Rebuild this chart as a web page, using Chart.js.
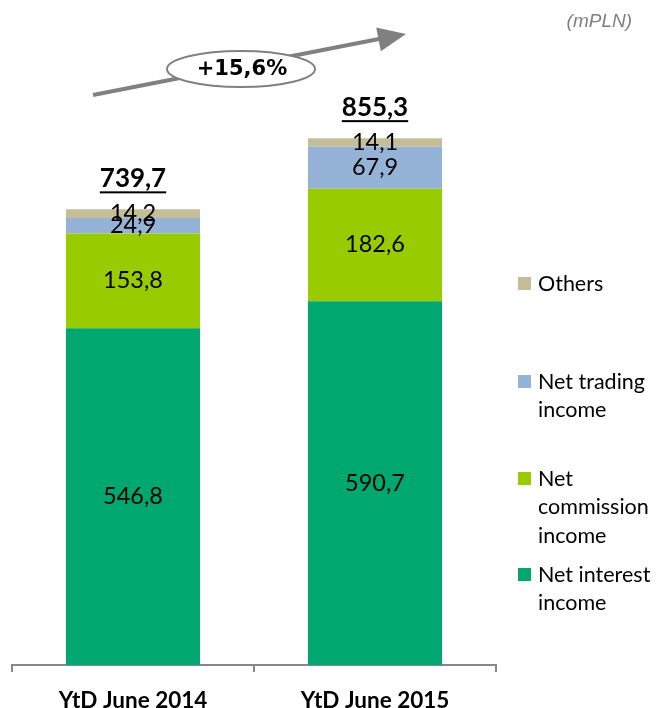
<!DOCTYPE html>
<html>
<head>
<meta charset="utf-8">
<script src="https://cdn.jsdelivr.net/npm/chart.js@4/dist/chart.umd.min.js"></script>
<style>
  html, body { margin: 0; padding: 0; background: #fff; }
  #wrap { width: 657px; height: 708px; position: relative; }
</style>
</head>
<body>
<div id="wrap"><canvas id="incomeChart"></canvas></div>
<script>
const categories = ['YtD June 2014', 'YtD June 2015'];
const seriesNames = ['Net interest income', 'Net commission income', 'Net trading income', 'Others'];
const legendLines = [['Net interest', 'income'], ['Net', 'commission', 'income'], ['Net trading', 'income'], ['Others']];
const netInterest = [546.8, 590.7];
const netCommission = [153.8, 182.6];
const netTrading = [24.9, 67.9];
const others = [14.2, 14.1];
const growthLabel = '+15,6%';
const unitLabel = '(mPLN)';

const colors = ['#00A76F', '#99CC00', '#95B3D7', '#C4BD97'];
const fmt = v => v.toFixed(1).replace('.', ',');

// value labels inside segments + totals on top
const labelsPlugin = {
  id: 'labels',
  afterDatasetsDraw(chart) {
    const ctx = chart.ctx;
    ctx.save();
    ctx.textAlign = 'center';
    ctx.textBaseline = 'middle';
    ctx.fillStyle = '#000';
    ctx.font = '23.5px Lato';
    chart.data.datasets.forEach((ds, i) => {
      chart.getDatasetMeta(i).data.forEach((bar, j) => {
        const mid = (bar.y + bar.base) / 2;
        ctx.fillText(fmt(ds.data[j]), bar.x, mid);
      });
    });
    const last = chart.getDatasetMeta(chart.data.datasets.length - 1);
    ctx.font = 'bold 26px Lato';
    last.data.forEach((bar, j) => {
      const total = chart.data.datasets.reduce((s, ds) => s + ds.data[j], 0);
      const txt = fmt(total);
      const y = bar.y - 31;
      ctx.fillText(txt, bar.x, y);
      const w = ctx.measureText(txt).width;
      ctx.fillRect(bar.x - w / 2, y + 13, w, 2);
    });
    ctx.restore();
  }
};

// legend on the right, top to bottom = Others .. Net interest income
const legendPlugin = {
  id: 'sideLegend',
  afterDraw(chart) {
    const ctx = chart.ctx;
    const x = chart.chartArea.right + 22;
    const tops = [575, 479, 382, 284];
    ctx.save();
    ctx.font = '21.5px Lato';
    ctx.textBaseline = 'middle';
    ctx.textAlign = 'left';
    chart.data.datasets.forEach((ds, i) => {
      const y = tops[i];
      ctx.fillStyle = ds.backgroundColor;
      ctx.fillRect(x, y - 7, 13, 13);
      ctx.fillStyle = '#000';
      legendLines[i].forEach((ln, k) => ctx.fillText(ln, x + 20, y + k * 28.5));
    });
    ctx.restore();
  }
};

// growth arrow with ellipse and unit text
const arrowPlugin = {
  id: 'growthArrow',
  afterDraw(chart) {
    const ctx = chart.ctx;
    ctx.save();
    ctx.strokeStyle = '#808080';
    ctx.fillStyle = '#808080';
    ctx.lineWidth = 4;
    ctx.beginPath();
    ctx.moveTo(93, 95);
    ctx.lineTo(384, 38);
    ctx.stroke();
    // head
    const tx = 406, ty = 34;
    const ang = Math.atan2(38 - 95, 384 - 93);
    ctx.beginPath();
    ctx.moveTo(tx, ty);
    ctx.lineTo(tx - 28 * Math.cos(ang) + 12 * Math.sin(ang), ty - 28 * Math.sin(ang) - 12 * Math.cos(ang));
    ctx.lineTo(tx - 28 * Math.cos(ang) - 12 * Math.sin(ang), ty - 28 * Math.sin(ang) + 12 * Math.cos(ang));
    ctx.closePath();
    ctx.fill();
    // ellipse
    ctx.beginPath();
    ctx.ellipse(241, 69, 74, 18, 0, 0, Math.PI * 2);
    ctx.fillStyle = '#fff';
    ctx.fill();
    ctx.lineWidth = 2;
    ctx.stroke();
    ctx.fillStyle = '#000';
    ctx.font = 'bold 21px "DejaVu Sans"';
    ctx.textAlign = 'center';
    ctx.textBaseline = 'middle';
    ctx.fillText(growthLabel, 242, 70);
    ctx.fillStyle = '#7f7f7f';
    ctx.font = 'italic 19px "Liberation Sans"';
    ctx.textAlign = 'right';
    ctx.fillText(unitLabel, 632, 22);
    ctx.restore();
  }
};

const seriesValues = [netInterest, netCommission, netTrading, others];

new Chart(document.getElementById('incomeChart'), {
  type: 'bar',
  data: {
    labels: categories,
    datasets: seriesNames.map((name, i) => ({
      label: name,
      data: seriesValues[i],
      backgroundColor: colors[i],
      borderWidth: 0,
      categoryPercentage: 1,
      barPercentage: 0.554
    }))
  },
  options: {
    responsive: true,
    maintainAspectRatio: false,
    animation: false,
    layout: { padding: { left: 12, right: 161, top: 49, bottom: -21 } },
    plugins: { legend: { display: false }, tooltip: { enabled: false } },
    scales: {
      x: {
        stacked: true,
        grid: { display: true, drawOnChartArea: false, drawTicks: true, tickLength: 7, color: '#888', lineWidth: 2 },
        border: { display: true, color: '#888', width: 2 },
        ticks: { color: '#000', font: { family: 'Lato', size: 22.5, weight: 'bold' }, padding: 15 }
      },
      y: { stacked: true, display: false, min: 0, max: 1000 }
    }
  },
  plugins: [labelsPlugin, legendPlugin, arrowPlugin]
});
</script>
</body>
</html>
